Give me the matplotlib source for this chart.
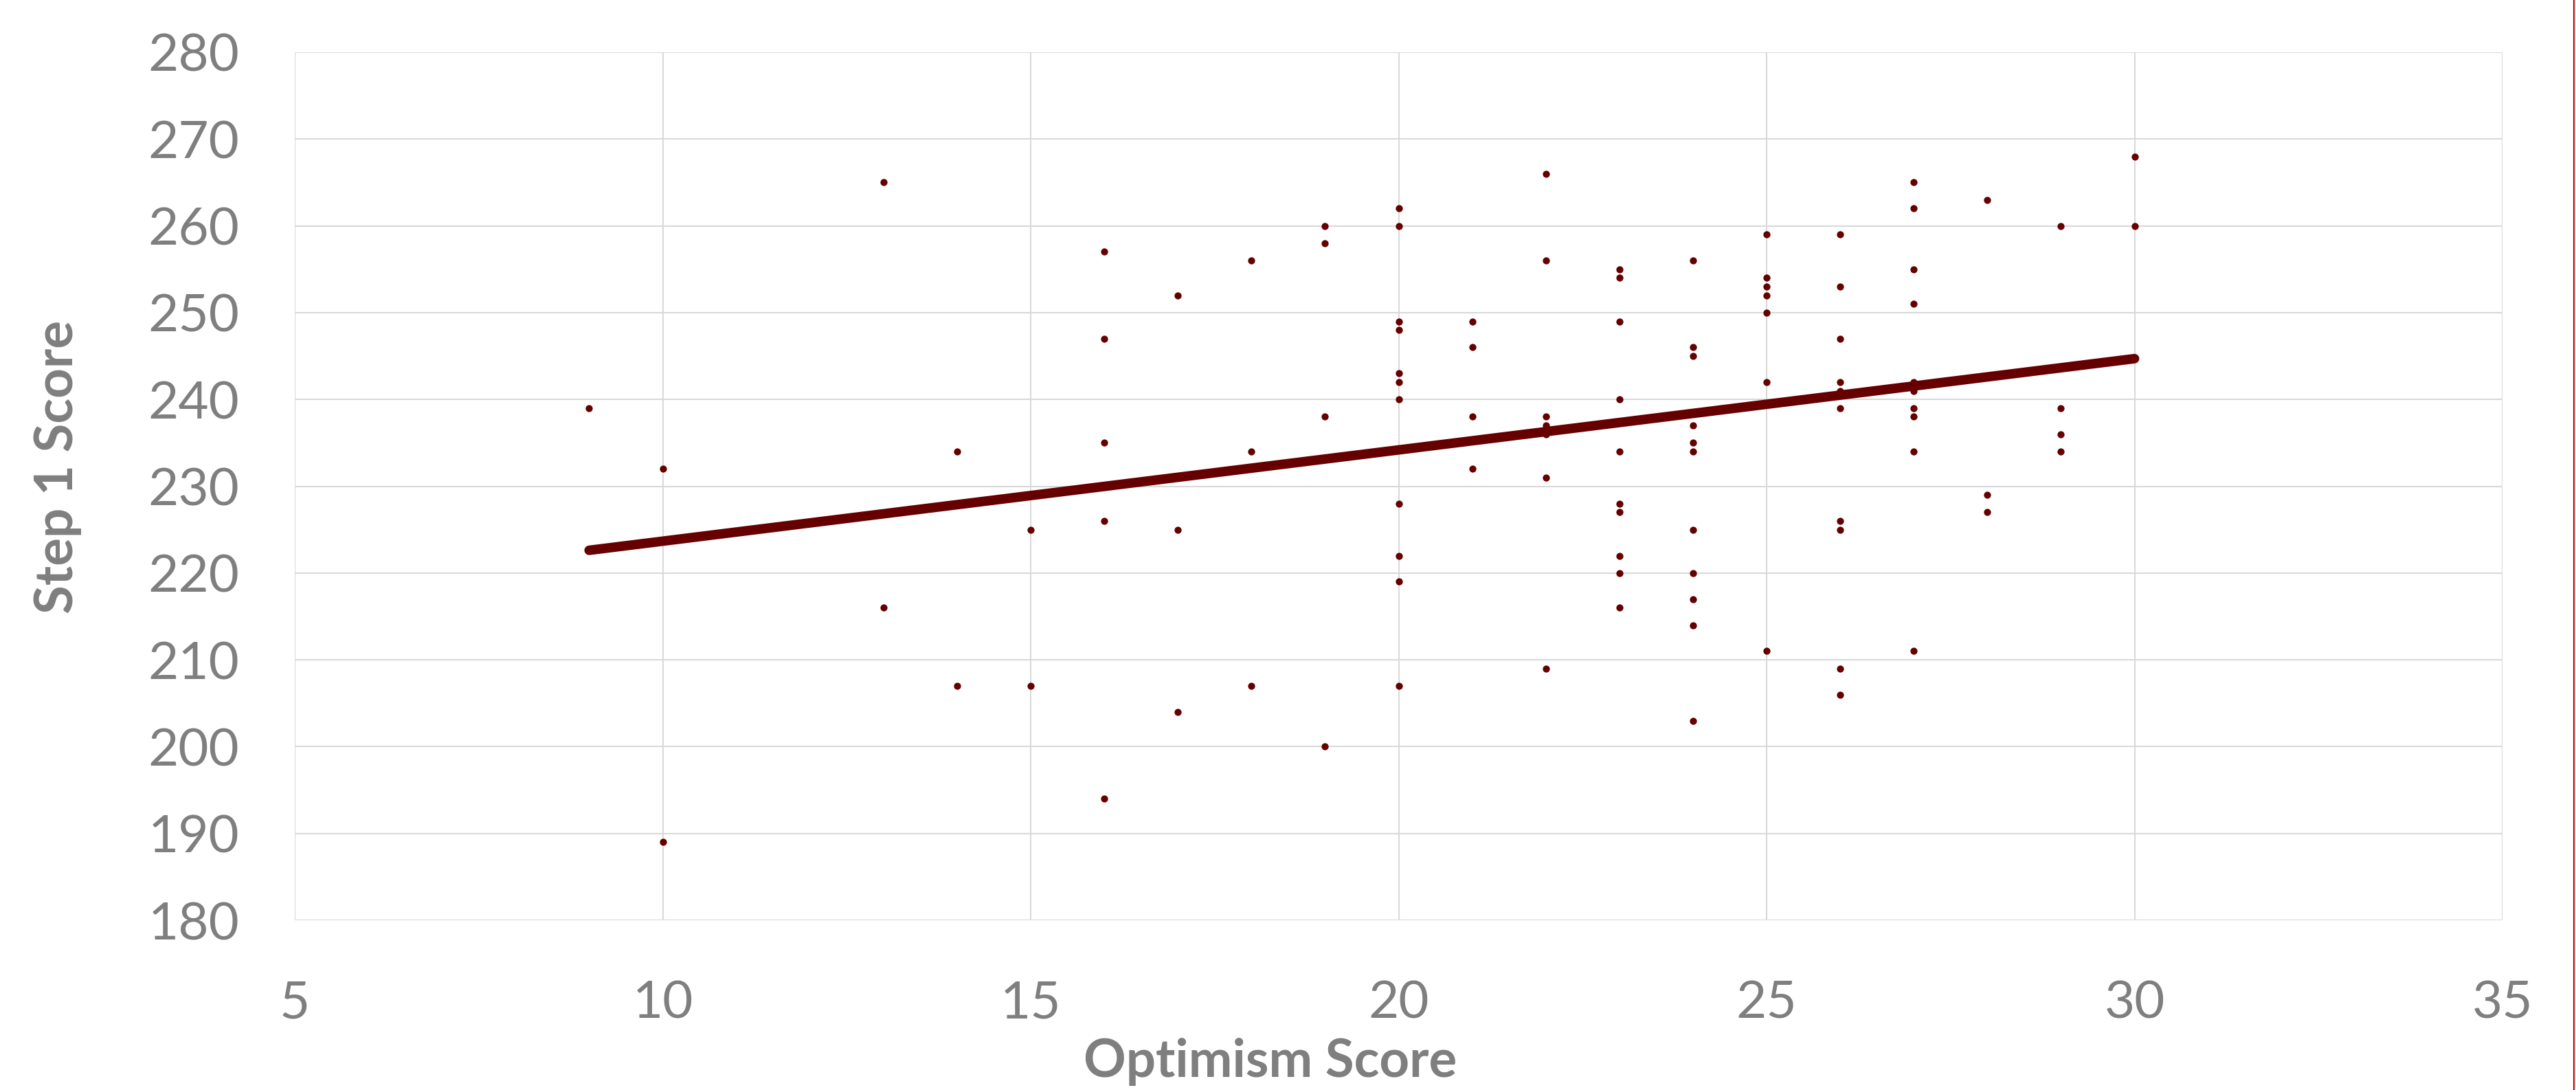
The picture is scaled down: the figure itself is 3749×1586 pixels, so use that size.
import numpy as np
import matplotlib
matplotlib.use("Agg")
import matplotlib.pyplot as plt
from matplotlib.lines import Line2D

# Optimism score vs Step 1 score
optimism = [9,
            10, 10,
            13, 13,
            14, 14,
            15, 15,
            16, 16, 16, 16, 16, 16,
            17, 17, 17,
            18, 18, 18,
            19, 19, 19, 19,
            20, 20, 20, 20, 20, 20, 20, 20, 20, 20, 20,
            21, 21, 21, 21,
            22, 22, 22, 22, 22, 22, 22,
            23, 23, 23, 23, 23, 23, 23, 23, 23, 23,
            24, 24, 24, 24, 24, 24, 24, 24, 24, 24, 24,
            25, 25, 25, 25, 25, 25, 25,
            26, 26, 26, 26, 26, 26, 26, 26, 26, 26,
            27, 27, 27, 27, 27, 27, 27, 27, 27, 27,
            28, 28, 28,
            29, 29, 29, 29,
            30, 30]
step1 = [239,
         232, 189,
         265, 216,
         234, 207,
         225, 207,
         257, 247, 235, 230, 226, 194,
         252, 225, 204,
         256, 234, 207,
         260, 258, 238, 200,
         262, 260, 249, 248, 243, 242, 240, 228, 222, 219, 207,
         249, 246, 238, 232,
         266, 256, 238, 237, 236, 231, 209,
         255, 254, 249, 240, 234, 228, 227, 222, 220, 216,
         256, 246, 245, 237, 235, 234, 225, 220, 217, 214, 203,
         259, 254, 253, 252, 250, 242, 211,
         259, 253, 247, 242, 241, 239, 226, 225, 209, 206,
         265, 262, 255, 251, 242, 241, 239, 238, 234, 211,
         263, 229, 227,
         260, 239, 236, 234,
         268, 260]

x_ticks = [5, 10, 15, 20, 25, 30, 35]
y_ticks = [180, 190, 200, 210, 220, 230, 240, 250, 260, 270, 280]

dark_red = "#660000"
grey = "#7f7f7f"
plt.rcParams["font.family"] = ["Lato", "DejaVu Sans"]

W, H = 3749, 1586
fig = plt.figure(figsize=(W / 100, H / 100), dpi=100)
ax = fig.add_axes([429 / W, 1 - 1339 / H, (3642 - 429) / W, (1339 - 76) / H])

x = np.array(optimism)
y = np.array(step1)
ax.scatter(x, y, s=55, color=dark_red, zorder=3, linewidths=0)

# linear trendline
slope, icpt = np.polyfit(x, y, 1)
xs = np.array([x.min(), x.max()])
ax.plot(xs, slope * xs + icpt, color=dark_red, lw=10, solid_capstyle="round", zorder=4)

ax.set_xlim(5, 35)
ax.set_ylim(180, 280)
ax.set_xticks(x_ticks)
ax.set_yticks(y_ticks)
ax.grid(True, color="#d9d9d9", lw=1.5)
ax.set_axisbelow(True)
for s in ax.spines.values():
    s.set_visible(False)
ax.tick_params(length=0, labelsize=55, labelcolor=grey)
ax.tick_params(axis="y", pad=58)
ax.tick_params(axis="x", pad=62)

ax.set_xlabel("Optimism Score", fontsize=55, fontweight="bold", color=grey)
ax.set_ylabel("Step 1 Score", fontsize=55, fontweight="bold", color=grey)
ax.xaxis.set_label_coords(0.4417, -0.163)
ax.yaxis.set_label_coords(-0.1074, 0.522)
ax.xaxis.label.set_va("center")
ax.yaxis.label.set_va("center")

# thin red border at the right edge
fig.add_artist(Line2D([3745.5 / W, 3745.5 / W], [0, 1], color="#c00000", lw=1.5))

fig.savefig("out.png", dpi=100)
